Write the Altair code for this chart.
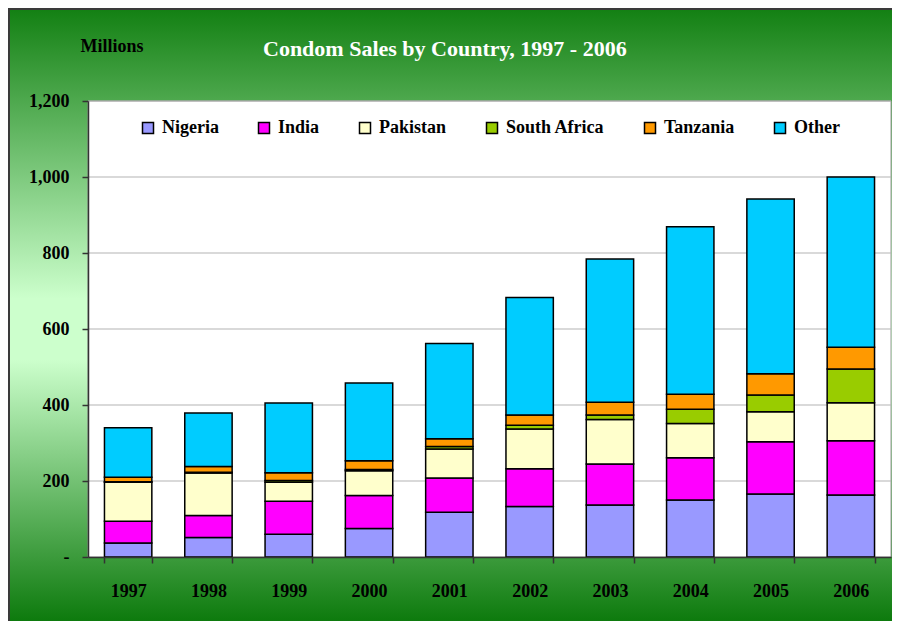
import altair as alt
import pandas as pd

# ---- data ----
years = ["1997", "1998", "1999", "2000", "2001", "2002", "2003", "2004", "2005", "2006"]
countries = ["Nigeria", "India", "Pakistan", "South Africa", "Tanzania", "Other"]
nigeria = [37, 51, 60, 75, 118, 133, 137, 150, 166, 163]
india = [57, 58, 87, 87, 90, 99, 108, 111, 137, 143]
pakistan = [103, 112, 50, 65, 76, 105, 117, 90, 79, 100]
south_africa = [1, 2, 4, 3, 7, 10, 12, 38, 44, 89]
tanzania = [12, 15, 21, 23, 20, 27, 33, 39, 56, 57]
other = [130, 141, 183, 205, 251, 309, 377, 441, 460, 448]
colors = ["#9999FF", "#FF00FF", "#FFFFCC", "#99CC00", "#FF9900", "#00CCFF"]
y_ticks = [0, 200, 400, 600, 800, 1000, 1200]
title_text = "Condom Sales by Country, 1997 - 2006"
y_title = "Millions"

series = [nigeria, india, pakistan, south_africa, tanzania, other]
rows = []
for ci, (c, vals) in enumerate(zip(countries, series)):
    for yr, v in zip(years, vals):
        rows.append({"year": yr, "country": c, "sales": v, "idx": ci})
df = pd.DataFrame(rows)

W, H = 803, 456
PL, PT, PR, PB = 80, 93, 1, 64
FONT = "Liberation Serif"

y_scale = alt.Scale(domain=[0, 1200], nice=False)
y_axis = alt.Axis(
    values=y_ticks,
    labelExpr="datum.value == 0 ? '-' : format(datum.value, ',')",
    title=y_title, titleAngle=0, titleX=-8, titleY=-50, titleAlign="left",
    titleBaseline="alphabetic", titleFont=FONT, titleFontSize=18,
    titleFontWeight="bold", titleColor="black",
    tickSize=6, tickWidth=1.5, tickColor="#333333",
    domainColor="#333333", domainWidth=1.5,
    labelFont=FONT, labelFontSize=18, labelFontWeight="bold", labelColor="black",
    labelPadding=13, grid=False, zindex=1,
)

bg = alt.Chart(pd.DataFrame({"k": [0]})).mark_rect(
    fill=alt.Gradient(
        gradient="linear",
        stops=[
            alt.GradientStop(color="#138013", offset=0),
            alt.GradientStop(color="#ccffcc", offset=0.47),
            alt.GradientStop(color="#ccffcc", offset=0.57),
            alt.GradientStop(color="#0a780a", offset=1),
        ],
        x1=0, x2=0, y1=0, y2=1,
    ),
    stroke="#3a3a3a",
    strokeWidth=2,
).encode(
    x=alt.value(-PL + 1), x2=alt.value(W + PR + 4),
    y=alt.value(-PT + 1), y2=alt.value(H + PB + 4),
)

plot_bg = alt.Chart(pd.DataFrame({"k": [0]})).mark_rect(
    fill="white", stroke="#999999", strokeWidth=1
).encode(x=alt.value(0), x2=alt.value(W), y=alt.value(0), y2=alt.value(H))

grid = alt.Chart(pd.DataFrame({"v": y_ticks[1:]})).mark_rule(
    color="#b3b3b3", strokeWidth=1
).encode(y=alt.Y("v:Q", scale=y_scale, axis=y_axis))

bars = alt.Chart(df).mark_bar(stroke="black", strokeWidth=1.5).encode(
    x=alt.X(
        "year:N",
        scale=alt.Scale(paddingInner=0.41, paddingOuter=0.205),
        axis=alt.Axis(
            title=None, labelAngle=0, tickBand="extent", tickSize=6, tickWidth=1.5,
            tickColor="#333333", domainColor="#333333", domainWidth=1.5,
            labelFont=FONT, labelFontSize=18, labelFontWeight="bold", labelColor="black",
            labelPadding=19, grid=False, zindex=1,
        ),
    ),
    y=alt.Y("sales:Q", stack="zero", scale=y_scale, axis=y_axis),
    color=alt.Color(
        "country:N",
        scale=alt.Scale(domain=countries, range=colors),
        legend=alt.Legend(
            orient="none", legendX=51, legendY=18, direction="horizontal", title=None,
            symbolType="square", symbolSize=121, symbolStrokeColor="black",
            symbolStrokeWidth=1.5, symbolOpacity=1,
            labelFont=FONT, labelFontSize=18, labelFontWeight="bold", labelColor="black",
            columnPadding=36, labelOffset=5, padding=0, zindex=1,
        ),
    ),
    order=alt.Order("idx:Q", sort="ascending"),
)

chart = alt.layer(bg, plot_bg, grid, bars).properties(
    width=W,
    height=H,
    padding={"left": PL, "top": PT, "right": PR, "bottom": PB},
    autosize=alt.AutoSizeParams(type="none"),
    background="white",
    title=alt.TitleParams(
        text=title_text, color="white", font=FONT, fontSize=22, fontWeight="bold",
        anchor="start", frame="group", dx=175, offset=-70, baseline="alphabetic", zindex=1,
    ),
).configure_view(stroke=None)

chart.save("out.html", embed_options={"renderer": "svg", "actions": False})
